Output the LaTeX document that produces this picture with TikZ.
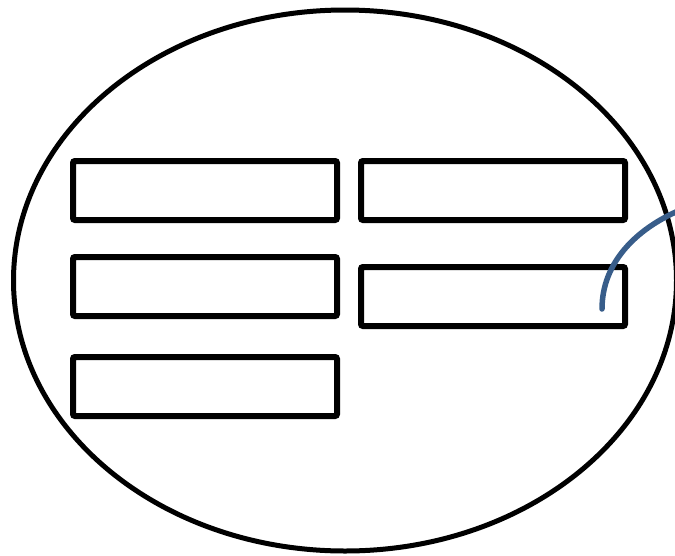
\documentclass[tikz,border=0pt]{standalone}
\usetikzlibrary{shapes.geometric}
\begin{document}
\begin{tikzpicture}[x=1pt,y=-1pt,
  box/.style={draw=black,line width=6pt,rounded corners=2pt,minimum width=264pt,minimum height=59pt,inner sep=0pt,outer sep=0pt},
  rim/.style={draw=black,line width=5pt},
  hook/.style={draw={rgb,255:red,56;green,93;blue,138},line width=5.5pt,line cap=round}]
\useasboundingbox (0,0) rectangle (675,555);
\draw[rim] (345,280.5) ellipse (331.5pt and 270.5pt);
\node[box] (l1) at (205,190.5) {};
\node[box] (l2) at (205,286.5) {};
\node[box] (l3) at (205,386.5) {};
\node[box] (r1) at (493,190.5) {};
\node[box] (r2) at (493,296.5) {};
\coordinate (hs) at (602,309);
\coordinate (he) at (678,211);
\draw[hook] (hs) .. controls (602,262) and (637,229) .. (he);
\end{tikzpicture}
\end{document}
